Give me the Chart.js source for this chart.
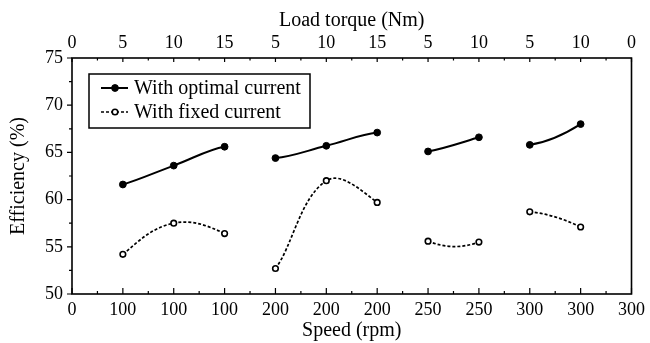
<!DOCTYPE html>
<html><head><meta charset="utf-8">
<script src="https://cdn.jsdelivr.net/npm/chart.js@4/dist/chart.umd.min.js"></script>
<style>html,body{margin:0;padding:0;background:#fff;} #wrap{width:650px;height:343px;position:relative;}</style>
</head><body><div id="wrap"><canvas id="c"></canvas></div>
<script>
// ---- data ----
const speedLabels = ['0','100','100','100','200','200','200','250','250','300','300','300'];
const torqueLabels = ['0','5','10','15','5','10','15','5','10','5','10','0'];
const positions = [0,1,2,3,4,5,6,7,8,9,10,11];
const optimalCurrent = [null,61.6,63.6,65.6,64.4,65.7,67.1,65.1,66.6,65.8,68.0,null];
const fixedCurrent   = [null,54.2,57.5,56.4,52.7,62.0,59.7,55.6,55.5,58.7,57.1,null];
const groups = [[1,2,3],[4,5,6],[7,8],[9,10]];
const seriesNames = ['With optimal current','With fixed current'];
// curve end-tangent hints (value per step) for the smooth segments
const optimalEndSlopes = [[1.6,0.9],[0.5,0.6],[1.0,1.6],[0.8,3.4]];
const fixedEndSlopes   = [[4.5,-2.5],[7,-4],[-2.2,2.0],[-0.5,-2.6]];

const FONT = 'Liberation Serif';

function buildDatasets(values, slopes, name, style) {
  return groups.map((g, k) => Object.assign({
    label: name,
    isLegend: k === 0,
    data: g.map(i => ({x: positions[i], y: values[i]})),
    endSlopes: slopes[k]
  }, style));
}

const optStyle = {borderColor:'#000', backgroundColor:'#000', borderWidth:2, pointRadius:3.4,
  pointBorderWidth:1, pointBackgroundColor:'#000', pointBorderColor:'#000', tension:0.4};
const fixStyle = {borderColor:'#000', backgroundColor:'#fff', borderWidth:1.7, borderDash:[3,2], pointRadius:2.8,
  pointBorderWidth:1.6, pointBackgroundColor:'#fff', pointBorderColor:'#000', tension:0.4};

const datasets = buildDatasets(optimalCurrent, optimalEndSlopes, seriesNames[0], optStyle)
  .concat(buildDatasets(fixedCurrent, fixedEndSlopes, seriesNames[1], fixStyle));

const curvePlugin = {
  id: 'curveEnds',
  beforeDatasetDraw(chart, args) {
    const ds = chart.data.datasets[args.index];
    if (!ds.endSlopes) return;
    const meta = args.meta, line = meta.dataset;
    line.updateControlPoints(chart.chartArea, 'x');
    const pts = meta.data;
    const ys = chart.scales.y;
    const a = pts[0], b = pts[pts.length - 1];
    const v0 = ds.data[0].y, v1 = ds.data[ds.data.length - 1].y;
    const step = (pts.length > 1) ? (pts[1].x - pts[0].x) : 0;
    const [m0, m1] = ds.endSlopes;
    a.cp2x = a.x + step / 3; a.cp2y = ys.getPixelForValue(v0 + m0 / 3);
    b.cp1x = b.x - step / 3; b.cp1y = ys.getPixelForValue(v1 - m1 / 3);
    delete line._path;
  }
};

const framePlugin = {
  id: 'frame',
  afterDraw(chart) {
    const {ctx, chartArea: a, scales} = chart;
    ctx.save();
    ctx.strokeStyle = '#000';
    ctx.lineWidth = 1.6;
    ctx.strokeRect(a.left, a.top, a.right - a.left, a.bottom - a.top);
    ctx.lineWidth = 1.2;
    ctx.beginPath();
    // bottom & top ticks (inward)
    for (let v = 0; v <= 11; v += 0.5) {
      const px = scales.x.getPixelForValue(v);
      const major = Number.isInteger(v);
      ctx.moveTo(px, a.bottom); ctx.lineTo(px, a.bottom - (major ? 6 : 3));
      ctx.moveTo(px, a.top); ctx.lineTo(px, a.top + (major ? 4 : 2.5));
    }
    // left ticks (outward)
    for (let v = 50; v <= 75; v += 2.5) {
      const py = scales.y.getPixelForValue(v);
      const major = (v % 5) === 0;
      ctx.moveTo(a.left, py); ctx.lineTo(a.left - (major ? 5 : 3), py);
    }
    ctx.stroke();

    // legend
    const bx = a.left + 17, by = a.top + 16, bw = 221, bh = 54;
    ctx.fillStyle = '#fff';
    ctx.fillRect(bx, by, bw, bh);
    ctx.lineWidth = 1.5;
    ctx.strokeRect(bx, by, bw, bh);
    const legendSets = chart.data.datasets.filter(d => d.isLegend);
    legendSets.forEach((d, i) => {
      const cy = by + 14 + i * 24;
      ctx.beginPath();
      ctx.lineWidth = d.borderWidth;
      ctx.setLineDash(d.borderDash || []);
      ctx.moveTo(bx + 12, cy); ctx.lineTo(bx + 39, cy);
      ctx.stroke();
      ctx.setLineDash([]);
      ctx.beginPath();
      ctx.arc(bx + 26, cy, d.pointRadius, 0, Math.PI * 2);
      ctx.fillStyle = d.pointBackgroundColor;
      ctx.fill();
      ctx.lineWidth = d.pointBorderWidth;
      ctx.stroke();
      ctx.fillStyle = '#000';
      ctx.font = '20px "' + FONT + '"';
      ctx.textBaseline = 'middle';
      ctx.textAlign = 'left';
      ctx.fillText(d.label, bx + 45, cy + 1);
    });
    ctx.restore();
  }
};

const tickFont = {family: FONT, size: 18};
const titleFont = {family: FONT, size: 20};

new Chart(document.getElementById('c'), {
  type: 'line',
  data: {datasets},
  plugins: [curvePlugin, framePlugin],
  options: {
    responsive: true,
    maintainAspectRatio: false,
    animation: false,
    events: [],
    layout: {padding: {left: 0, right: 17, top: 0, bottom: 0}},
    plugins: {legend: {display: false}, tooltip: {enabled: false}},
    scales: {
      x: {
        type: 'linear', position: 'bottom', min: 0, max: 11,
        afterFit(s) { s.height = 49; },
        ticks: {stepSize: 1, autoSkip: false, maxRotation: 0, color: '#000', font: tickFont, padding: 5,
          callback: v => speedLabels[v]},
        grid: {display: false, drawTicks: false},
        border: {display: false},
        title: {display: true, text: 'Speed (rpm)', color: '#000', font: titleFont, padding: {top: 0, bottom: 0}}
      },
      x2: {
        type: 'linear', position: 'top', min: 0, max: 11,
        afterFit(s) { s.height = 58; },
        ticks: {stepSize: 1, autoSkip: false, maxRotation: 0, color: '#000', font: tickFont, padding: 4,
          callback: v => torqueLabels[v]},
        grid: {display: false, drawTicks: false},
        border: {display: false},
        title: {display: true, text: 'Load torque (Nm)', color: '#000', font: titleFont, padding: {top: 9, bottom: 0}}
      },
      y: {
        type: 'linear', position: 'left', min: 50, max: 75,
        afterFit(s) { s.width = 72; },
        ticks: {stepSize: 5, color: '#000', font: tickFont, padding: 9},
        grid: {display: false, drawTicks: false},
        border: {display: false},
        title: {display: true, text: 'Efficiency (%)', color: '#000', font: titleFont, padding: {top: 7, bottom: 0}}
      }
    }
  }
});
</script>
</body></html>
